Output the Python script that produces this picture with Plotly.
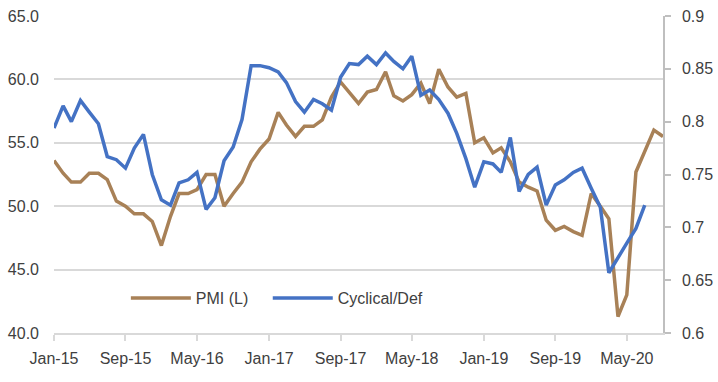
import pandas as pd
import plotly.graph_objects as go

months = pd.date_range("2015-01-01", "2020-09-01", freq="MS")

pmi = [53.6, 52.6, 51.9, 51.9, 52.6, 52.6, 52.1, 50.4, 50.0, 49.4,
       49.4, 48.8, 46.9, 49.2, 51.0, 51.0, 51.3, 52.5, 52.5, 50.0,
       51.0, 51.9, 53.5, 54.5, 55.3, 57.4, 56.4, 55.5, 56.3, 56.3,
       56.8, 58.6, 59.8, 59.0, 58.1, 59.0, 59.2, 60.6, 58.7, 58.3,
       58.8, 59.7, 58.1, 60.8, 59.4, 58.6, 58.9, 55.0, 55.4, 54.2,
       54.6, 53.5, 51.9, 51.5, 51.2, 48.9, 48.1, 48.4, 48.0, 47.7,
       51.0, 50.0, 49.0, 41.3, 43.0, 52.7, 54.3, 56.0, 55.5]

cyc_def = [0.794, 0.815, 0.800, 0.820, 0.809, 0.798, 0.767, 0.764, 0.756, 0.775,
           0.788, 0.750, 0.726, 0.721, 0.742, 0.745, 0.752, 0.717, 0.728, 0.763,
           0.776, 0.802, 0.853, 0.853, 0.851, 0.847, 0.837, 0.819, 0.809, 0.821,
           0.817, 0.811, 0.842, 0.855, 0.854, 0.862, 0.854, 0.865, 0.857, 0.850,
           0.862, 0.825, 0.830, 0.821, 0.808, 0.789, 0.765, 0.738, 0.762, 0.760,
           0.752, 0.785, 0.734, 0.750, 0.757, 0.721, 0.740, 0.745, 0.752, 0.756,
           0.737, 0.719, 0.657, 0.672, 0.685, 0.699, 0.721]

left_ticks = [40, 45, 50, 55, 60, 65]
right_ticks = [0.6, 0.65, 0.7, 0.75, 0.8, 0.85, 0.9]

BROWN = "#a88157"
BLUE = "#4472c4"
GRID = "#d9d9d9"
TXT = "#404040"
FONT = "Liberation Sans, Arial, sans-serif"

fig = go.Figure()
fig.add_trace(go.Scatter(x=months, y=pmi, name="PMI (L)", mode="lines",
                         legend="legend",
                         line=dict(color=BROWN, width=3.5)))
fig.add_trace(go.Scatter(x=months[:len(cyc_def)], y=cyc_def, name="Cyclical/Def",
                         mode="lines", yaxis="y2", legend="legend2",
                         line=dict(color=BLUE, width=3.5)))

leg_common = dict(orientation="h", y=0.11, xanchor="left", yanchor="middle",
                  bgcolor="rgba(0,0,0,0)", font=dict(size=16, color=TXT),
                  itemwidth=60)

fig.update_layout(
    width=718, height=382,
    margin=dict(l=54, r=55, t=16, b=49, autoexpand=False),
    paper_bgcolor="white", plot_bgcolor="white",
    font=dict(family=FONT, size=16, color=TXT),
    showlegend=True,
    legend=dict(x=0.118, **leg_common),
    legend2=dict(x=0.351, **leg_common),
    xaxis=dict(range=[months[0], months[-1]], type="date", automargin=False,
               tick0="2015-01-01", dtick="M8", tickformat="%b-%y",
               showgrid=False, showline=True, linecolor=GRID, linewidth=2,
               ticks="outside", ticklen=6, tickcolor=GRID, tickwidth=2,
               ticklabelstandoff=4, zeroline=False),
    yaxis=dict(range=[40, 65], tickvals=left_ticks, tickformat=".1f", automargin=False,
               showgrid=True, gridcolor=GRID, gridwidth=2,
               showline=False, zeroline=False, ticks="",
               ticklabelstandoff=14),
    yaxis2=dict(range=[0.6, 0.9], tickvals=right_ticks, overlaying="y", side="right",
                automargin=False,
                showgrid=False, showline=True, linecolor="#bfbfbf", linewidth=1.5,
                ticks="outside", ticklen=6, tickcolor="#bfbfbf", tickwidth=1.5,
                ticklabelstandoff=8, zeroline=False),
)

fig.write_html(
    "out.html",
    config={"displayModeBar": False},
    post_script="document.body.style.margin='0';document.body.style.overflow='hidden';",
)
